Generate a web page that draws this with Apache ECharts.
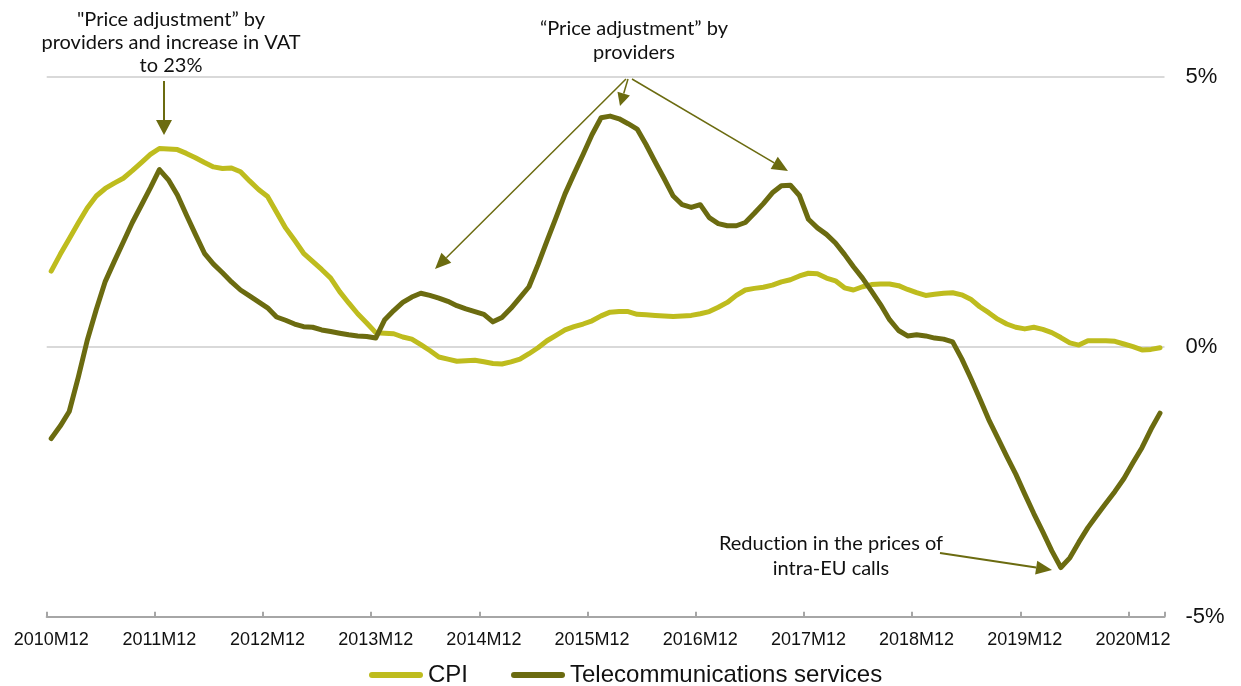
<!DOCTYPE html>
<html>
<head>
<meta charset="utf-8">
<script src="https://cdn.jsdelivr.net/npm/echarts@6/dist/echarts.min.js"></script>
<style>
html, body { margin: 0; padding: 0; background: #fff; }
#container { width: 1241px; height: 686px; }
</style>
</head>
<body>
<div id="container"></div>
<script>
// monthly categories, 2010M12 .. 2021M03
var months = []
for (var y = 2010, m = 12; months.length < 124; ) {
    months.push(y + 'M' + m)
    m++
    if (m > 12) { m = 1; y++ }
}

// y-o-y change, %
var cpi = [
    1.40, 1.71, 2.00, 2.29, 2.57, 2.79, 2.93, 3.03, 3.12, 3.26, 3.41, 3.56,
    3.67, 3.66, 3.65, 3.58, 3.50, 3.41, 3.33, 3.30, 3.31, 3.24, 3.07, 2.91,
    2.78, 2.49, 2.20, 1.97, 1.73, 1.58, 1.43, 1.27, 1.02, 0.81, 0.61, 0.44,
    0.26, 0.25, 0.24, 0.18, 0.14, 0.04, -0.07, -0.19, -0.23, -0.27, -0.26, -0.25,
    -0.28, -0.31, -0.32, -0.28, -0.23, -0.13, -0.02, 0.11, 0.21, 0.31, 0.37, 0.42,
    0.48, 0.57, 0.64, 0.65, 0.65, 0.60, 0.59, 0.58, 0.57, 0.56, 0.57, 0.58,
    0.61, 0.65, 0.73, 0.82, 0.95, 1.05, 1.08, 1.10, 1.14, 1.20, 1.24, 1.31,
    1.36, 1.35, 1.27, 1.22, 1.09, 1.05, 1.11, 1.15, 1.16, 1.16, 1.13, 1.06,
    1.00, 0.95, 0.97, 0.99, 1.00, 0.96, 0.88, 0.74, 0.63, 0.51, 0.42, 0.36,
    0.33, 0.36, 0.32, 0.26, 0.17, 0.07, 0.03, 0.11, 0.11, 0.11, 0.10, 0.05,
    0.00, -0.06, -0.05, -0.02
]

var telecom = [
    -1.70, -1.47, -1.20, -0.57, 0.12, 0.69, 1.21, 1.58, 1.94, 2.30, 2.62, 2.94,
    3.28, 3.09, 2.81, 2.44, 2.08, 1.73, 1.53, 1.37, 1.20, 1.05, 0.94, 0.83,
    0.72, 0.55, 0.49, 0.42, 0.37, 0.36, 0.31, 0.28, 0.25, 0.22, 0.20, 0.19,
    0.16, 0.50, 0.67, 0.82, 0.92, 0.99, 0.95, 0.90, 0.84, 0.76, 0.70, 0.65,
    0.60, 0.46, 0.54, 0.71, 0.91, 1.11, 1.52, 1.96, 2.39, 2.83, 3.20, 3.56,
    3.93, 4.24, 4.27, 4.22, 4.13, 4.03, 3.74, 3.42, 3.11, 2.79, 2.63, 2.58,
    2.63, 2.39, 2.28, 2.24, 2.24, 2.30, 2.47, 2.65, 2.85, 2.98, 2.99, 2.80,
    2.36, 2.20, 2.08, 1.92, 1.71, 1.48, 1.27, 1.03, 0.78, 0.50, 0.30, 0.20,
    0.22, 0.20, 0.16, 0.14, 0.09, -0.22, -0.58, -0.96, -1.35, -1.69, -2.03, -2.36,
    -2.73, -3.09, -3.43, -3.78, -4.09, -3.91, -3.62, -3.35, -3.12, -2.90, -2.68, -2.44,
    -2.15, -1.87, -1.53, -1.23
]

var yTicks = [-5, 0, 5]

var cpiColor = '#bebc1e'
var telColor = '#6b6b10'
var arrowColor = '#6b6b10'
var noteFont = '20px Lato'

// annotation arrow: thin shaft + filled triangle head
var arrow = function (x1, y1, x2, y2, lw, hl, hw) {
    var dx = x2 - x1
    var dy = y2 - y1
    var len = Math.sqrt(dx * dx + dy * dy)
    var ux = dx / len
    var uy = dy / len
    var bx = x2 - ux * hl
    var by = y2 - uy * hl
    var px = -uy * hw / 2
    var py = ux * hw / 2
    return [
        {
            type: 'line', silent: true, z: 100,
            shape: { x1: x1, y1: y1, x2: bx, y2: by },
            style: { stroke: arrowColor, lineWidth: lw }
        },
        {
            type: 'polygon', silent: true, z: 100,
            shape: { points: [[x2, y2], [bx + px, by + py], [bx - px, by - py]] },
            style: { fill: arrowColor }
        }
    ]
}

var note = function (x, y, text, lh) {
    return {
        type: 'text', silent: true, z: 100,
        x: x, y: y,
        style: {
            text: text, font: noteFont, fill: '#111',
            align: 'center', verticalAlign: 'top', lineHeight: lh
        }
    }
}

// \u200c keeps "ti" from turning into a ligature
var graphics = [].concat(
    note(171, 8, '"Price adjustment\u201d by\nproviders and increase in VAT\nto 23%', 23),
    note(634, 17, '\u201cPrice adjustment\u201d by\nproviders', 23.5),
    note(831, 531, 'Reduct\u200cion in the prices of\nintra-EU calls', 25),
    arrow(164, 81, 164, 135, 2, 15, 16),
    arrow(628, 79, 620, 106, 1.5, 13, 13),
    arrow(626, 79, 435, 269, 1.5, 16, 14),
    arrow(632, 79, 788, 171, 1.5, 16, 14),
    arrow(940, 553, 1052, 570, 2, 16, 14)
)

var chart = echarts.init(document.getElementById('container'))

var option = {
    animation: false,
    backgroundColor: '#fff',
    grid: {
        left: 46.7, right: 76.5, top: 76.7, bottom: 69.3,
        containLabel: false, outerBoundsMode: 'none'
    },
    legend: {
        left: 369, top: 663, padding: 0,
        itemWidth: 54, itemHeight: 6, itemGap: 43,
        icon: 'path://M3,0 L51,0 A3,3 0 0 1 51,6 L3,6 A3,3 0 0 1 3,0 Z',
        textStyle: { fontFamily: 'Liberation Sans', fontSize: 24, color: '#111' },
        data: ['CPI', 'Telecommunications services']
    },
    xAxis: {
        type: 'category',
        data: months,
        boundaryGap: true,
        axisLine: { onZero: false, lineStyle: { color: '#a6a6a6', width: 2 } },
        axisTick: { show: true, interval: 11, inside: true, length: 5, lineStyle: { color: '#a6a6a6', width: 2 } },
        axisLabel: {
            interval: 11, margin: 14,
            fontFamily: 'Liberation Sans', fontSize: 18, color: '#111'
        },
        splitLine: { show: false }
    },
    yAxis: {
        type: 'value',
        position: 'right',
        min: yTicks[0], max: yTicks[yTicks.length - 1], interval: 5,
        axisLine: { show: false },
        axisTick: { show: false },
        axisLabel: {
            margin: 21, align: 'left',
            fontFamily: 'Liberation Sans', fontSize: 22, color: '#111',
            formatter: function (v) { return v + '%' }
        },
        splitLine: { show: true, lineStyle: { color: '#d9d9d9', width: 2 } }
    },
    series: [
        {
            name: 'CPI',
            type: 'line',
            data: cpi,
            showSymbol: false,
            symbol: 'none',
            color: cpiColor,
            lineStyle: { color: cpiColor, width: 5, cap: 'round', join: 'round' }
        },
        {
            name: 'Telecommunications services',
            type: 'line',
            data: telecom,
            showSymbol: false,
            symbol: 'none',
            color: telColor,
            lineStyle: { color: telColor, width: 5, cap: 'round', join: 'round' }
        }
    ],
    graphic: graphics
}

chart.setOption(option)
</script>
</body>
</html>
